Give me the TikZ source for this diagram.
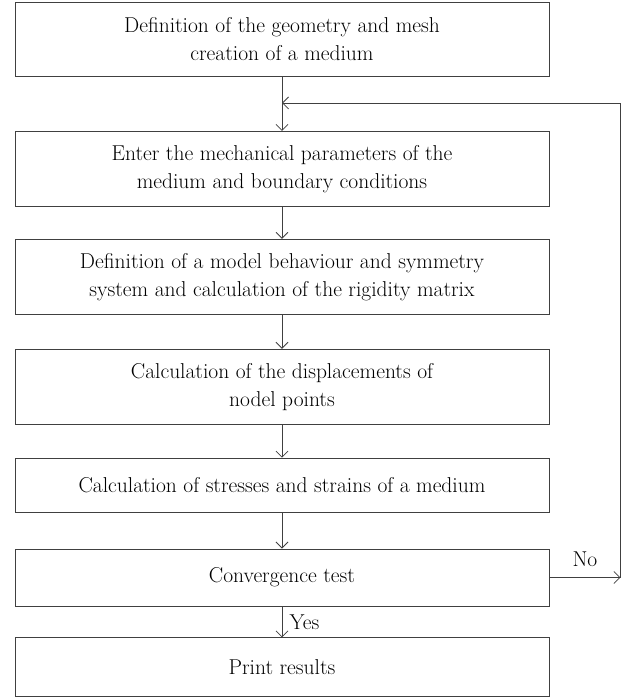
\documentclass[tikz,border=0pt]{standalone}
\usepackage{tikz}
\usetikzlibrary{arrows.meta,positioning}
\definecolor{linegray}{gray}{0.25}

\begin{document}
\begin{tikzpicture}[
  node distance=33pt,
  box/.style={rectangle,draw=linegray,line width=0.9pt,minimum width=534pt,
              minimum height=75pt,align=center,inner sep=0pt,
              font=\fontsize{21.5}{28}\selectfont},
  shortbox/.style={box,minimum height=57pt},
  arrow/.style={-{Straight Barb[length=6pt,width=12pt]},draw=linegray,line width=0.8pt},
  lbl/.style={font=\fontsize{21.5}{24}\selectfont},
]
  \useasboundingbox (0,0) rectangle (631pt,-697pt);

  \node[box,minimum height=74pt] (geom) at (282pt,-39.5pt) {Definition of the geometry and mesh\\creation of a medium};
  \node[box,below=54pt of geom]   (param) {Enter the mechanical parameters of the\\medium and boundary conditions};
  \node[box,below=32pt of param]  (rigid) {Definition of a model behaviour and symmetry\\system and calculation of the rigidity matrix};
  \node[box,below=34pt of rigid]  (displ) {Calculation of the displacements of\\nodel points};
  \node[shortbox,minimum height=54pt,below=of displ] (stress) {Calculation of stresses and strains of a medium};
  \node[shortbox,below=36pt of stress] (conv) {Convergence test};
  \node[shortbox,minimum height=59pt,below=31pt of conv] (print) {Print results};

  \coordinate[below=26pt of geom] (join);
  \coordinate[right=71pt of conv] (back);

  \draw[arrow] (geom) -- (param);
  \draw[arrow] (param) -- (rigid);
  \draw[arrow] (rigid) -- (displ);
  \draw[arrow] (displ) -- (stress);
  \draw[arrow] (stress) -- (conv);
  \draw[arrow] (conv) -- node[midway,lbl,right=4pt] {Yes} (print);

  % loop back when not converged
  \draw[arrow] (conv) -- node[midway,lbl,above=7pt] {No} (back);
  \draw[arrow] (back) |- (join);
\end{tikzpicture}
\end{document}
